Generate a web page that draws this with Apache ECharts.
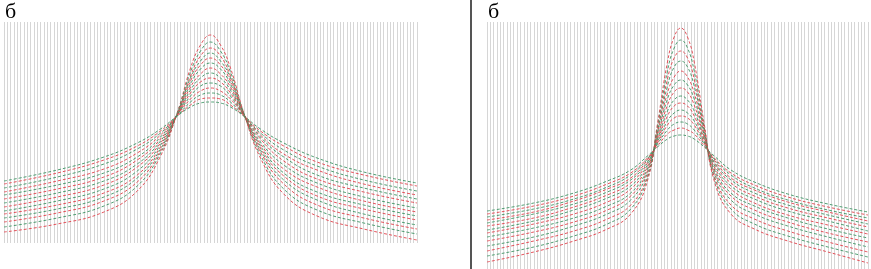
<!DOCTYPE html>
<html><head><meta charset="utf-8">
<script src="https://cdn.jsdelivr.net/npm/echarts@6/dist/echarts.min.js"></script>
<style>html,body{margin:0;padding:0;background:#fff}#c{width:871px;height:269px}</style>
</head><body><div id="c"></div>
<script>
// panel labels
const panelLabels = ['б', 'б'];
// x positions (arbitrary units) of the sampled points
const leftX = [-62,-46,-32,-22,-15,-10,-6,-3,0,3,6,10,15,22,32,46,62];
const rightX = [-58,-44,-32,-22,-15,-10,-7,-4,-2,0,2,4,7,10,15,22,32,44,56];
// left panel: intensity of each curve, sharpest first
const leftCurves = [
  [11,19,31,52,87,130,175,198,208,198,175,130,85,49,27,14,3],
  [16,25,37,57,90,130,171,192,201,192,171,130,88,54,33,20,9],
  [21,30,42,61,92,129,167,187,195,187,167,129,91,59,38,25,14],
  [25,34,46,65,94,129,165,182,190,182,165,129,93,63,43,29,18],
  [29,38,50,68,96,129,162,178,185,178,162,129,95,67,47,34,23],
  [32,42,54,72,98,129,159,174,180,174,159,129,97,70,51,38,27],
  [36,46,58,76,100,128,156,169,175,169,156,128,99,74,56,42,31],
  [40,50,62,79,102,128,153,165,170,165,153,128,101,78,60,46,35],
  [44,54,66,83,104,128,150,161,165,161,150,128,104,82,64,51,40],
  [48,58,70,86,106,128,147,157,160,157,147,128,106,86,68,55,44],
  [51,62,74,90,108,128,144,152,155,152,144,128,108,89,73,59,48],
  [55,66,79,94,110,127,141,148,150,148,141,127,110,93,77,63,52],
  [59,70,83,97,112,127,138,144,145,144,138,127,112,97,81,68,57],
  [62,73,86,100,114,127,136,140,141,140,136,127,114,100,85,71,60]
];
// right panel
const rightCurves = [
  [7,17,28,40,55,88,145,207,232,241,232,207,145,88,55,40,28,17,6],
  [13,22,33,45,60,91,142,198,221,229,221,198,142,91,60,45,33,22,12],
  [18,28,38,50,64,93,140,190,211,218,211,190,140,93,64,50,38,27,17],
  [23,32,43,55,69,96,138,183,202,208,202,183,138,96,69,55,43,32,22],
  [28,37,47,59,73,98,136,176,192,198,192,176,136,98,73,59,47,36,27],
  [32,41,51,63,76,100,134,170,184,189,184,170,134,100,76,63,51,40,31],
  [36,45,55,67,80,102,132,164,177,181,177,164,132,102,80,66,54,44,35],
  [39,48,59,71,83,104,130,158,169,173,169,158,130,104,83,70,58,48,38],
  [43,51,62,74,86,106,129,153,163,166,163,153,129,106,86,73,61,51,42],
  [46,55,65,77,89,107,127,148,156,159,156,148,127,107,89,76,64,54,45],
  [49,57,68,80,91,109,126,144,151,153,151,144,126,109,91,79,67,57,48],
  [52,60,70,82,94,110,125,139,145,147,145,139,125,110,94,81,69,59,51],
  [55,63,73,85,96,111,123,135,139,141,139,135,123,111,96,84,72,62,54],
  [58,66,76,88,99,113,122,130,133,134,133,130,122,113,99,87,75,65,57]
];
const curveColors = ['#e2404a', '#3c9463'];

const chart = echarts.init(document.getElementById('c'), null, {renderer: 'canvas'});
function xAxis(gi, mn, mx) {
  return {gridIndex: gi, type: 'value', min: mn, max: mx, interval: 1,
    axisLine: {show: false}, axisTick: {show: false}, axisLabel: {show: false},
    splitLine: {show: true, lineStyle: {color: '#d6d6d6', width: 1}}};
}
function yAxis(gi, mx) {
  return {gridIndex: gi, type: 'value', min: 0, max: mx,
    axisLine: {show: false}, axisTick: {show: false}, axisLabel: {show: false},
    splitLine: {show: false}};
}
const series = [];
function addSeries(curves, xs, idx) {
  curves.forEach((c, k) => {
    series.push({type: 'line', xAxisIndex: idx, yAxisIndex: idx, smooth: 0.45,
      showSymbol: false, silent: true,
      lineStyle: {color: curveColors[k % 2], width: 0.9, type: [3, 2]},
      data: xs.map((x, i) => [x, c[i]])});
  });
}
addSeries(leftCurves, leftX, 0);
addSeries(rightCurves, rightX, 1);

chart.setOption({
  animation: false,
  title: [
    {text: panelLabels[0], left: 0, top: -4, textStyle: {fontFamily: 'Liberation Serif', fontSize: 22, fontWeight: 'normal', color: '#000'}},
    {text: panelLabels[1], left: 483, top: -4, textStyle: {fontFamily: 'Liberation Serif', fontSize: 22, fontWeight: 'normal', color: '#000'}}
  ],
  grid: [
    {left: 4, right: 454, top: 22, bottom: 26},
    {left: 487, right: 3, top: 22, bottom: 0}
  ],
  xAxis: [xAxis(0, -62, 62), xAxis(1, -58, 56)],
  yAxis: [yAxis(0, 221), yAxis(1, 247)],
  graphic: [{type: 'line', shape: {x1: 471, y1: 0, x2: 471, y2: 269}, style: {stroke: '#555', lineWidth: 2}}],
  series: series
});
</script></body></html>
